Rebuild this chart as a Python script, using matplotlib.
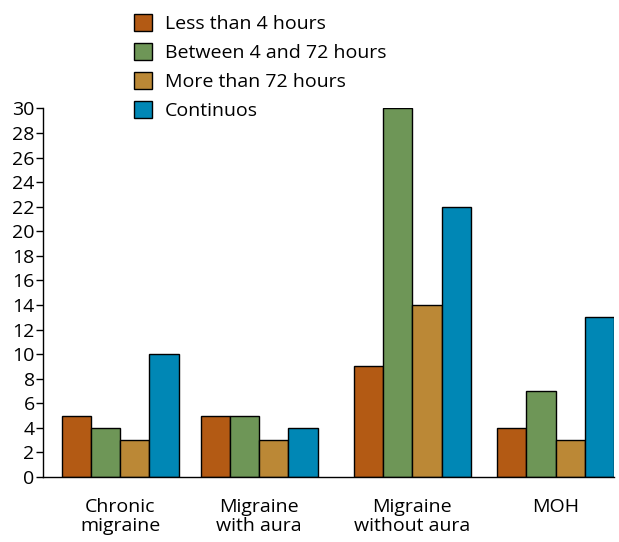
import matplotlib
matplotlib.use("Agg")
import matplotlib.pyplot as plt
import numpy as np

plt.rcParams['font.family'] = ['Open Sans', 'DejaVu Sans']

# Data
categories = ["Chronic\nmigraine", "Migraine\nwith aura", "Migraine\nwithout aura", "MOH"]
series_names = ["Less than 4 hours", "Between 4 and 72 hours", "More than 72 hours", "Continuos"]
less_4h = [5, 5, 9, 4]
between_4_72h = [4, 5, 30, 7]
more_72h = [3, 3, 14, 3]
continuos = [10, 4, 22, 13]
colors = ["#B35A14", "#6E9657", "#BB8836", "#0087B5"]

series = [less_4h, between_4_72h, more_72h, continuos]
group_pos = np.array([0, 1, 2.1, 3.13])
width = 0.21

fig = plt.figure(figsize=(6.19, 5.42), dpi=100)
ax = fig.add_axes([0.0695, 0.12, 0.9225, 0.68])

handles = []
for i, (vals, name, c) in enumerate(zip(series, series_names, colors)):
    offs = (i - 1.5) * width
    b = ax.bar(group_pos + offs, vals, width, color=c, edgecolor="black",
               linewidth=1.0, label=name)
    handles.append(b)

ax.set_xlim(-0.554, 3.55)
ax.set_ylim(0, 30)
ax.set_yticks(range(0, 31, 2))
ax.set_xticks(group_pos)
ax.set_xticklabels(categories, fontsize=14, linespacing=1.07)
ax.tick_params(axis='x', length=0, pad=15)
ax.tick_params(axis='y', length=5, width=1, labelsize=14, pad=1, direction='out')
for s in ["top", "right"]:
    ax.spines[s].set_visible(False)
ax.spines["left"].set_linewidth(1)
ax.spines["bottom"].set_linewidth(1)
ax.spines["left"].set_bounds(0, 30)

fig.legend(handles=handles, loc="upper left", bbox_to_anchor=(0.197, 0.995),
           frameon=False, fontsize=14, handlelength=0.95, handleheight=0.95,
           handletextpad=0.65, labelspacing=0.5, borderaxespad=0.2)

fig.savefig("out.png", dpi=100)
